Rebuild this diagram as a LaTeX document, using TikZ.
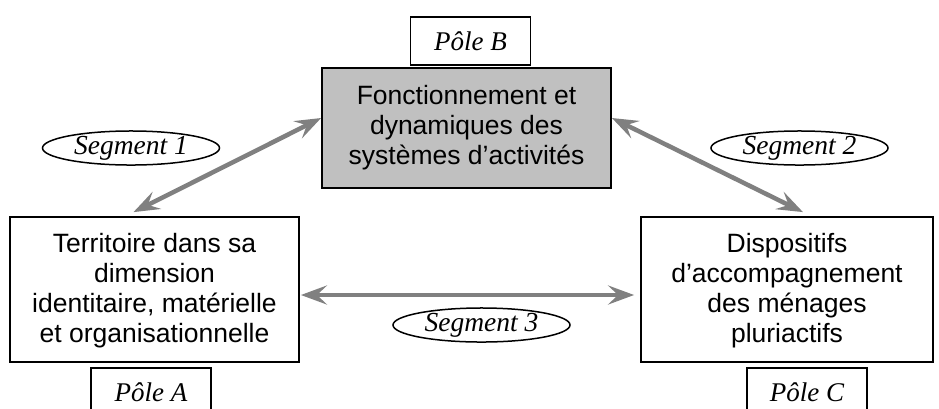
\documentclass[tikz,border=0pt]{standalone}
\usepackage{fontspec}
\setmainfont{Liberation Sans}
\newfontfamily\lserif{Liberation Serif}
\usetikzlibrary{arrows.meta,shapes.geometric}
\definecolor{boxgray}{HTML}{C0C0C0}
\definecolor{arrgray}{HTML}{808080}
\begin{document}
\begin{tikzpicture}[x=1pt,y=-1pt,
  mainbox/.style={draw=black,line width=1.8pt,align=center,inner sep=0pt,
    font=\fontsize{26.5}{30}\selectfont},
  polebox/.style={draw=black,line width=1.8pt,fill=white,minimum width=120pt,minimum height=48pt,
    inner sep=0pt,font=\lserif\itshape\fontsize{27}{30}\selectfont},
  segell/.style={draw=black,ellipse,line width=1.5pt,inner sep=0pt,minimum width=177pt,minimum height=34pt,
    font=\lserif\itshape\fontsize{27.5}{30}\selectfont},
  dblarrow/.style={draw=arrgray,line width=4.5pt,
    {Stealth[length=26pt,width=19pt,inset=10pt]}-{Stealth[length=26pt,width=19pt,inset=10pt]}}]
\clip (0,0) rectangle (939,408);
\fill[white] (0,0) rectangle (939,408);
% main boxes
\node[mainbox,fill=boxgray,minimum width=289pt,minimum height=120pt] (B) at (466.5,128)
  {Fonctionnement et\\dynamiques des\\syst\`emes d'activit\'es};
\node[mainbox,fill=white,minimum width=289pt,minimum height=145pt,text depth=4pt] (A) at (154.5,289.5)
  {Territoire dans sa\\dimension\\identitaire, mat\'erielle\\et organisationnelle};
\node[mainbox,fill=white,minimum width=292pt,minimum height=145pt,text depth=4pt] (C) at (787,289.5)
  {Dispositifs\\d'accompagnement\\des m\'enages\\pluriactifs};
% pole labels
\node[polebox] (poleB) at (470.5,41) {P\^ole B};
\node[polebox] (poleA) at (151,392) {P\^ole A};
\node[polebox] (poleC) at (807,392) {P\^ole C};
% segments
\node[segell] (seg1) at (131,148) {Segment 1};
\node[segell] (seg2) at (799.5,148) {Segment 2};
\node[segell] (seg3) at (481.5,325) {Segment 3};
% connectors
\coordinate (Bw) at ([yshift=10pt]B.west);
\coordinate (Be) at ([yshift=10pt]B.east);
\coordinate (An) at ([xshift=-21pt,yshift=4pt]A.north);
\coordinate (Cn) at ([xshift=16pt,yshift=4pt]C.north);
\coordinate (Ae) at ([xshift=1pt,yshift=-5.5pt]A.east);
\coordinate (Cw) at ([xshift=-6pt,yshift=-5.5pt]C.west);
\draw[dblarrow] (An) -- (Bw);
\draw[dblarrow] (Be) -- (Cn);
\draw[dblarrow] (Ae) -- (Cw);
\end{tikzpicture}
\end{document}
